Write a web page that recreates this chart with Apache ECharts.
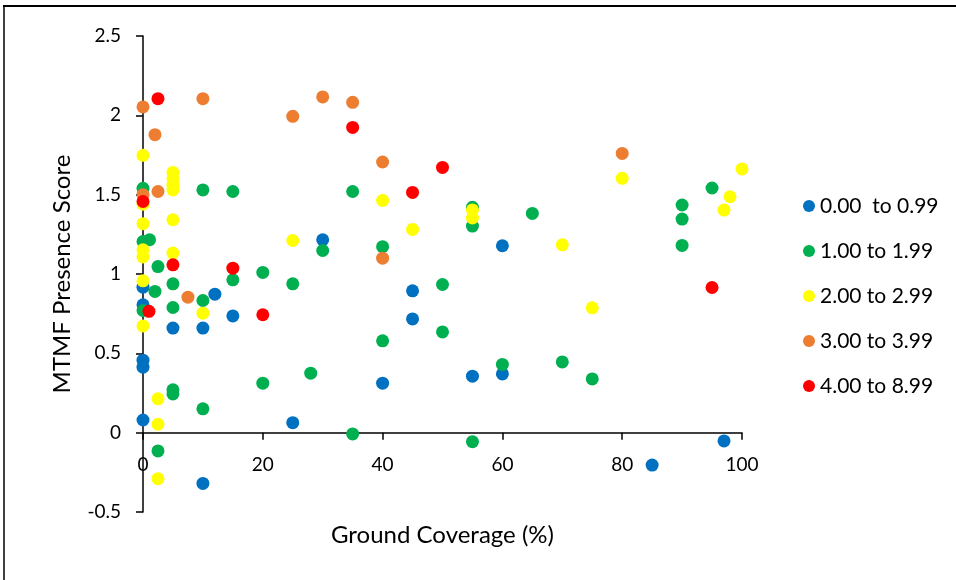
<!DOCTYPE html>
<html>
<head>
<meta charset="utf-8">
<script src="https://cdn.jsdelivr.net/npm/echarts@6/dist/echarts.min.js"></script>
<style>
  html, body { margin: 0; padding: 0; background: #fff; }
  #chart { width: 956px; height: 580px; }
</style>
</head>
<body>
<div id="chart"></div>
<script>
// Score classes shown in the legend
const classNames = ['0.00  to 0.99', '1.00 to 1.99', '2.00 to 2.99', '3.00 to 3.99', '4.00 to 8.99'];
const classColors = ['#0070C0', '#00B050', '#FFFF00', '#ED7D31', '#FF0000'];

// [ground coverage %, MTMF presence score] for each class
const class0 = [
  [0, 0.917], [0, 0.806], [0, 0.457], [0, 0.413], [0, 0.08], [5, 0.659], [10, 0.659],
  [10, -0.32], [12, 0.873], [15, 0.736], [25, 0.063], [30, 1.216], [40, 0.312],
  [45, 0.894], [45, 0.717], [55, 0.356], [60, 0.37], [60, 1.178], [85, -0.204], [97, -0.052]
];
const class1 = [
  [0, 1.54], [0, 1.205], [1.1, 1.216], [2.5, 1.047], [5, 0.938], [2, 0.89], [10, 0.833],
  [0, 0.77], [5, 0.789], [10, 1.53], [15, 1.52], [15, 0.963], [20, 1.01], [25, 0.938],
  [20, 0.312], [28, 0.375], [5, 0.27], [5, 0.244], [10, 0.15], [2.5, -0.115], [35, -0.008],
  [30, 1.148], [35, 1.52], [40, 1.172], [40, 0.579], [50, 0.934], [50, 0.635], [55, 1.42],
  [55, 1.302], [55, -0.057], [60, 0.43], [65, 1.382], [70, 0.446], [75, 0.339],
  [90, 1.435], [90, 1.346], [90, 1.18], [95, 1.542]
];
const class2 = [
  [0, 1.748], [0, 1.44], [0, 1.317], [0, 1.153], [0, 1.107], [0, 0.957], [0, 0.673],
  [5, 1.64], [5, 1.60], [5, 1.56], [5, 1.53], [5, 1.342], [5, 1.132], [10, 0.753],
  [2.5, 0.213], [2.5, 0.053], [2.5, -0.29], [25, 1.211], [40, 1.464], [45, 1.281],
  [55, 1.404], [55, 1.353], [70, 1.184], [75, 0.787], [80, 1.603], [97, 1.403],
  [98, 1.487], [100, 1.662]
];
const class3 = [
  [0, 2.053], [2, 1.878], [10, 2.105], [0, 1.50], [2.5, 1.52], [7.5, 0.854], [25, 1.994],
  [30, 2.116], [35, 2.082], [40, 1.706], [40, 1.10], [80, 1.76]
];
const class4 = [
  [2.5, 2.105], [0, 1.457], [5, 1.058], [1, 0.765], [15, 1.037], [20, 0.743],
  [35, 1.924], [45, 1.514], [50, 1.672], [95, 0.915]
];
const classData = [class0, class1, class2, class3, class4];

// Axis ranges
const xMin = 0, xMax = 100, xStep = 20;
const yMin = -0.5, yMax = 2.5, yStep = 0.5;

const FONT = 'Lato';
const chart = echarts.init(document.getElementById('chart'), null, { renderer: 'canvas' });

chart.setOption({
  backgroundColor: '#fff',
  animation: false,
  textStyle: { fontFamily: FONT, color: '#000' },
  grid: { left: 143, right: 214, top: 36, bottom: 68, containLabel: false, outerBoundsMode: 'none' },
  graphic: [
    { type: 'line', shape: { x1: 3, y1: 6, x2: 956, y2: 6 }, style: { stroke: '#000', lineWidth: 2 } },
    { type: 'line', shape: { x1: 4, y1: 6, x2: 4, y2: 580 }, style: { stroke: '#000', lineWidth: 1.5 } }
  ],
  xAxis: {
    type: 'value', min: xMin, max: xMax, interval: xStep,
    name: 'Ground Coverage (%)', nameLocation: 'middle', nameGap: 11,
    nameTextStyle: { fontFamily: FONT, fontSize: 24, color: '#000' },
    axisLine: { onZero: true, lineStyle: { color: '#000', width: 1.5 } },
    axisTick: { show: true, inside: false, length: 7, lineStyle: { color: '#000', width: 1.5 } },
    axisLabel: { fontFamily: FONT, fontSize: 19, color: '#000', margin: -57 },
    splitLine: { show: false }
  },
  yAxis: {
    type: 'value', min: yMin, max: yMax, interval: yStep,
    name: 'MTMF Presence Score', nameLocation: 'middle', nameGap: 69,
    nameTextStyle: { fontFamily: FONT, fontSize: 24, color: '#000' },
    axisLine: { show: true, onZero: false, lineStyle: { color: '#000', width: 1.5 } },
    axisTick: { show: true, inside: false, length: 7, lineStyle: { color: '#000', width: 1.5 } },
    axisLabel: { fontFamily: FONT, fontSize: 19, color: '#000', margin: 22 },
    splitLine: { show: false }
  },
  legend: {
    orient: 'vertical', left: 798, top: 190,
    itemWidth: 12, itemHeight: 12, itemGap: 23, icon: 'circle',
    textStyle: { fontFamily: FONT, fontSize: 21, color: '#000', lineHeight: 22 },
    data: classNames
  },
  series: classData.map((pts, i) => ({
    name: classNames[i],
    type: 'scatter',
    data: pts,
    symbol: 'circle',
    symbolSize: 13,
    clip: false,
    itemStyle: { color: classColors[i], opacity: 1 },
    emphasis: { disabled: true }
  }))
});
</script>
</body>
</html>
